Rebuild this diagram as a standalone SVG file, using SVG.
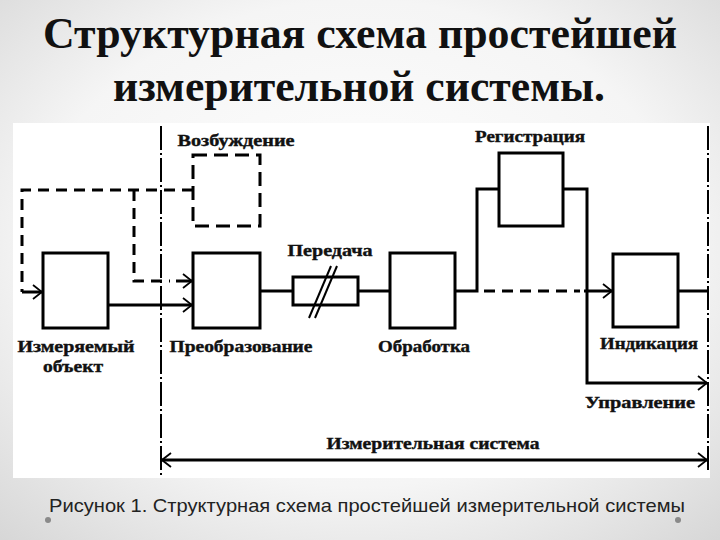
<svg xmlns="http://www.w3.org/2000/svg" width="720" height="540" viewBox="0 0 720 540">
  <defs>
    <radialGradient id="bg" cx="50%" cy="45%" r="75%">
      <stop offset="0" stop-color="#ffffff"/>
      <stop offset="0.6" stop-color="#f5f5f5"/>
      <stop offset="1" stop-color="#d6d6d6"/>
    </radialGradient>
    <marker id="chev" viewBox="0 0 11 16" refX="10.5" refY="8" markerWidth="11" markerHeight="16" orient="auto-start-reverse" markerUnits="userSpaceOnUse">
      <path d="M1.5,1 L10.5,8 L1.5,15" fill="none" stroke="#000" stroke-width="1.8"/>
    </marker>
    <style>
      .title { font-family: "Liberation Serif", "Times New Roman", serif; font-weight: bold; font-size: 44px; fill: #111; text-anchor: middle; }
      .lbl { font-family: "Liberation Serif", "Times New Roman", serif; font-weight: bold; font-size: 17px; fill: #111; stroke: #111; stroke-width: 0.4; text-anchor: middle; }
      .cap { font-family: "Liberation Sans", Arial, sans-serif; font-size: 19px; fill: #222; }
      .box { fill: #fff; stroke: #000; stroke-width: 3; }
      .dbox { fill: none; stroke: #000; stroke-width: 3; stroke-dasharray: 14 7; }
      .line { fill: none; stroke: #000; stroke-width: 3; }
      .dash { fill: none; stroke: #000; stroke-width: 3; stroke-dasharray: 11 7; }
      .dashdot { fill: none; stroke: #000; stroke-width: 2; stroke-dasharray: 24 3 2 3; }
      .thin { fill: none; stroke: #000; stroke-width: 2; }
    </style>
  </defs>

  <rect x="0" y="0" width="720" height="540" fill="url(#bg)"/>
  <rect x="13" y="123" width="697" height="355" fill="#ffffff"/>

  <g id="title">
    <text class="title" x="360" y="48" textLength="634" lengthAdjust="spacingAndGlyphs">Структурная схема простейшей</text>
    <text class="title" x="359" y="101" textLength="492" lengthAdjust="spacingAndGlyphs">измерительной системы.</text>
  </g>

  <g id="connectors">
    <!-- system boundaries -->
    <line class="dashdot" x1="161" y1="126" x2="161" y2="478"/>
    <line class="dashdot" x1="708" y1="126" x2="708" y2="472"/>
    <!-- excitation feedback (dashed) -->
    <path class="dash" d="M193,190 H22 V292"/>
    <path class="line" d="M22,292 H42" marker-end="url(#chev)"/>
    <path class="dash" d="M134,190 V281 H170"/>
    <path class="line" d="M176,281 H192" marker-end="url(#chev)"/>
    <!-- object to conversion -->
    <path class="line" d="M108,305 H192" marker-end="url(#chev)"/>
    <!-- transmission -->
    <path class="line" d="M260,291 H293"/>
    <path class="line" d="M358,291 H390"/>
    <!-- processing to registration -->
    <path class="line" d="M455,291 H477 V189 H499"/>
    <path class="line" d="M563,189 H587 V383 H707" marker-end="url(#chev)"/>
    <path class="dash" d="M484,291 H580"/>
    <path class="line" d="M584,291 H612" marker-end="url(#chev)"/>
    <path class="line" d="M678,291 H708"/>
    <!-- measuring system extent -->
    <path class="line" d="M162,460 H707" marker-start="url(#chev)" marker-end="url(#chev)"/>
  </g>

  <g id="object">
    <rect class="box" x="43" y="253" width="65" height="75"/>
    <text class="lbl" x="76" y="352" textLength="117" lengthAdjust="spacingAndGlyphs">Измеряемый</text>
    <text class="lbl" x="73" y="372" textLength="60" lengthAdjust="spacingAndGlyphs">объект</text>
  </g>

  <g id="excitation">
    <rect class="dbox" x="193" y="155" width="67" height="71"/>
    <text class="lbl" x="236" y="146" textLength="117" lengthAdjust="spacingAndGlyphs">Возбуждение</text>
  </g>

  <g id="conversion">
    <rect class="box" x="193" y="253" width="67" height="75"/>
    <text class="lbl" x="241" y="352" textLength="143" lengthAdjust="spacingAndGlyphs">Преобразование</text>
  </g>

  <g id="transmission">
    <rect class="box" x="293" y="277" width="65" height="28"/>
    <line class="thin" x1="309" y1="318" x2="331" y2="266"/>
    <line class="thin" x1="315" y1="318" x2="337" y2="266"/>
    <text class="lbl" x="330" y="256" textLength="85" lengthAdjust="spacingAndGlyphs">Передача</text>
  </g>

  <g id="processing">
    <rect class="box" x="390" y="253" width="65" height="75"/>
    <text class="lbl" x="424" y="352" textLength="92" lengthAdjust="spacingAndGlyphs">Обработка</text>
  </g>

  <g id="registration">
    <rect class="box" x="499" y="153" width="64" height="73"/>
    <text class="lbl" x="530" y="142" textLength="110" lengthAdjust="spacingAndGlyphs">Регистрация</text>
  </g>

  <g id="indication">
    <rect class="box" x="613" y="254" width="65" height="73"/>
    <text class="lbl" x="649" y="349" textLength="98" lengthAdjust="spacingAndGlyphs">Индикация</text>
  </g>

  <g id="control">
    <text class="lbl" x="640" y="408" textLength="110" lengthAdjust="spacingAndGlyphs">Управление</text>
  </g>

  <g id="system">
    <text class="lbl" x="433" y="449" textLength="213" lengthAdjust="spacingAndGlyphs">Измерительная система</text>
  </g>

  <g id="caption">
    <circle cx="48" cy="520" r="3" fill="#8a8a8a"/>
    <circle cx="678" cy="520" r="3" fill="#8a8a8a"/>
    <text class="cap" x="49" y="512" textLength="636" lengthAdjust="spacingAndGlyphs">Рисунок 1. Структурная схема простейшей измерительной системы</text>
  </g>
</svg>
